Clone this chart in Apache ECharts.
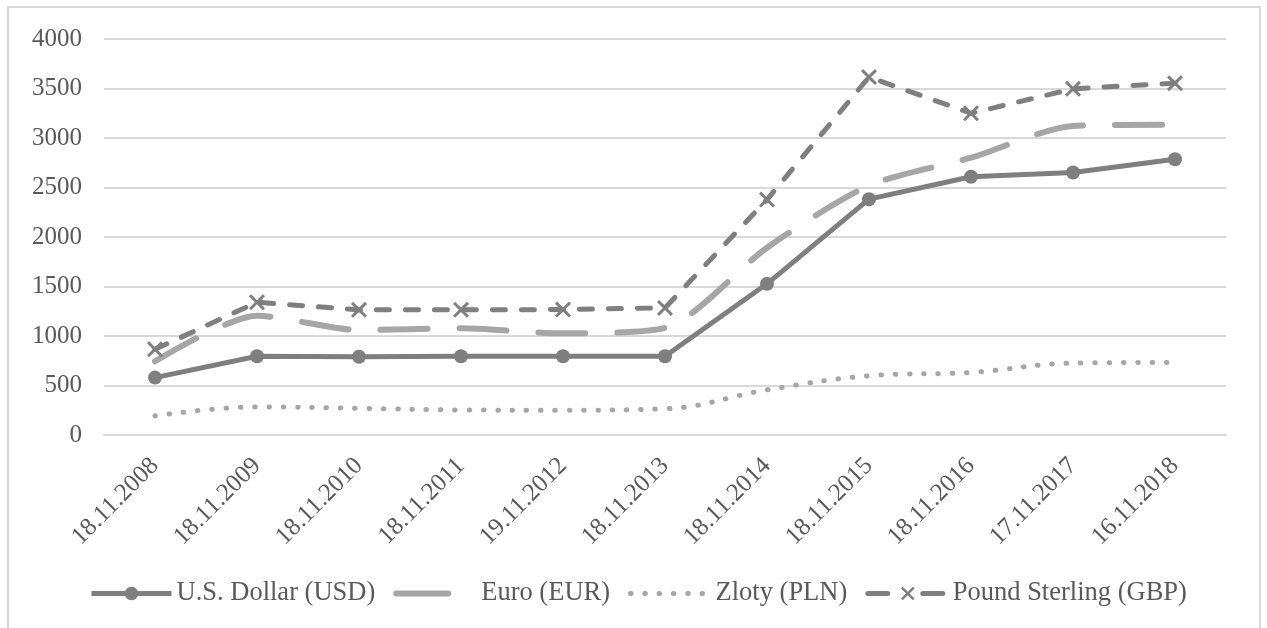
<!DOCTYPE html>
<html>
<head>
<meta charset="utf-8">
<style>
  html, body { margin: 0; padding: 0; background: #ffffff; }
  #chart { width: 1267px; height: 628px; }
</style>
<script src="https://cdn.jsdelivr.net/npm/echarts@6/dist/echarts.min.js"></script>
</head>
<body>
<div id="chart"></div>
<script>
// Exchange-rate series, one value per reporting date
const dates = ['18.11.2008', '18.11.2009', '18.11.2010', '18.11.2011', '19.11.2012', '18.11.2013',
               '18.11.2014', '18.11.2015', '18.11.2016', '17.11.2017', '16.11.2018'];
const usd = [580, 795, 790, 795, 795, 795, 1527, 2382, 2608, 2652, 2785];
const eur = [745, 1205, 1060, 1078, 1027, 1081, 1892, 2520, 2801, 3122, 3135];
const pln = [193, 284, 270, 253, 250, 265, 456, 598, 632, 726, 733];
const gbp = [866, 1341, 1264, 1264, 1267, 1284, 2378, 3615, 3250, 3497, 3554];
const yTicks = { min: 0, max: 4000, interval: 500 };

const darkGrey = '#7f7f7f';
const lightGrey = '#a6a6a6';
const textGrey = '#595959';
const gridGrey = '#d9d9d9';
const serif = 'Liberation Serif';

// X-shaped marker
const crossSymbol = 'path://M0,1.3 L1.3,0 L5,3.7 L8.7,0 L10,1.3 L6.3,5 L10,8.7 L8.7,10 L5,6.3 L1.3,10 L0,8.7 L3.7,5 Z';

const chart = echarts.init(document.getElementById('chart'), null, { renderer: 'canvas' });

chart.setOption({
  animation: false,
  backgroundColor: '#ffffff',
  graphic: [{
    type: 'rect',
    shape: { x: 8, y: 7, width: 1252, height: 660 },
    style: { fill: 'none', stroke: gridGrey, lineWidth: 2 },
    z: -1
  }],
  grid: { left: 104, right: 41, top: 39, bottom: 193, containLabel: false },
  legend: {
    left: 89,
    top: 580,
    padding: 0,
    itemWidth: 80,
    itemHeight: 17,
    itemGap: 18,
    lineStyle: { width: 5 },
    textStyle: { fontFamily: serif, fontSize: 26.5, color: textGrey },
    data: [
      { name: 'U.S. Dollar (USD)' },
      { name: 'Euro (EUR)', lineStyle: { width: 6, type: [52, 40] }, itemStyle: { opacity: 0 } },
      { name: 'Zloty (PLN)', itemStyle: { opacity: 0 } },
      { name: 'Pound Sterling (GBP)', lineStyle: { type: [20, 35] } }
    ]
  },
  xAxis: {
    type: 'category',
    data: dates,
    boundaryGap: true,
    axisLine: { show: true, lineStyle: { color: gridGrey, width: 2 } },
    axisTick: { show: false },
    axisLabel: {
      rotate: 45,
      interval: 0,
      margin: 27,
      fontFamily: serif,
      fontSize: 25,
      color: textGrey
    }
  },
  yAxis: {
    type: 'value',
    min: yTicks.min,
    max: yTicks.max,
    interval: yTicks.interval,
    axisLine: { show: false },
    axisTick: { show: false },
    splitLine: { lineStyle: { color: gridGrey, width: 2 } },
    axisLabel: {
      margin: 22,
      fontFamily: serif,
      fontSize: 25,
      color: textGrey,
      formatter: function (v) { return String(v); }
    }
  },
  series: [
    {
      name: 'U.S. Dollar (USD)',
      type: 'line',
      data: usd,
      symbol: 'circle',
      symbolSize: 14,
      itemStyle: { color: darkGrey },
      lineStyle: { color: darkGrey, width: 5 },
      z: 4
    },
    {
      name: 'Euro (EUR)',
      type: 'line',
      data: eur,
      symbol: 'none',
      smooth: 0.25,
      itemStyle: { color: lightGrey },
      lineStyle: { color: lightGrey, width: 6, type: [47, 32], cap: 'round' },
      z: 2
    },
    {
      name: 'Zloty (PLN)',
      type: 'line',
      data: pln,
      symbol: 'none',
      smooth: 0.4,
      itemStyle: { color: lightGrey },
      lineStyle: { color: lightGrey, width: 5, type: [0.5, 13.8], cap: 'round' },
      z: 2
    },
    {
      name: 'Pound Sterling (GBP)',
      type: 'line',
      data: gbp,
      symbol: crossSymbol,
      symbolSize: 16,
      itemStyle: { color: darkGrey },
      lineStyle: { color: darkGrey, width: 5, type: [13, 16], cap: 'round' },
      z: 3
    }
  ]
});
</script>
</body>
</html>
